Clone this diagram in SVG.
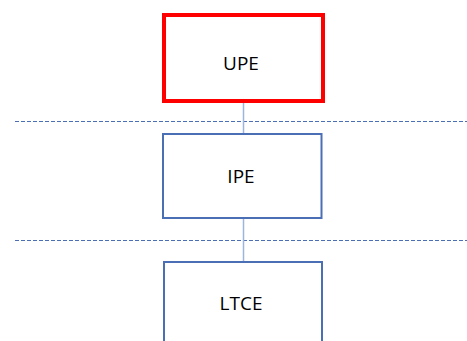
<svg xmlns="http://www.w3.org/2000/svg" width="467" height="341" viewBox="0 0 467 341">
  <style>
    .box { fill: #ffffff; stroke: #4a6fb5; stroke-width: 2; }
    .box-hot { fill: #ffffff; stroke: #ff0000; stroke-width: 4; }
    .label { font-family: "Open Sans", "Liberation Sans", sans-serif; font-size: 19px; fill: #000000; text-anchor: middle; }
    .link { stroke: #9fb4dc; stroke-width: 1.5; fill: none; }
    .divider { stroke: #4a6fb5; stroke-width: 1; stroke-dasharray: 4 2; fill: none; }
  </style>
  <rect width="467" height="341" fill="#ffffff"/>

  <!-- layer dividers -->
  <g id="dividers">
    <line class="divider" x1="15" y1="121.5" x2="467" y2="121.5"/>
    <line class="divider" x1="15" y1="240.5" x2="467" y2="240.5"/>
  </g>

  <!-- connectors -->
  <g id="connectors">
    <line class="link" x1="243.5" y1="103" x2="243.5" y2="134"/>
    <line class="link" x1="243.5" y1="218" x2="243.5" y2="262"/>
  </g>

  <g id="upe">
    <rect class="box-hot" x="164" y="15" width="159" height="86"/>
    <text class="label" x="241" y="70">UPE</text>
  </g>

  <g id="ipe">
    <rect class="box" x="163" y="134" width="158.5" height="84"/>
    <text class="label" x="241" y="183">IPE</text>
  </g>

  <g id="ltce">
    <rect class="box" x="164" y="262" width="158" height="100"/>
    <text class="label" x="241" y="310">LTCE</text>
  </g>
</svg>
